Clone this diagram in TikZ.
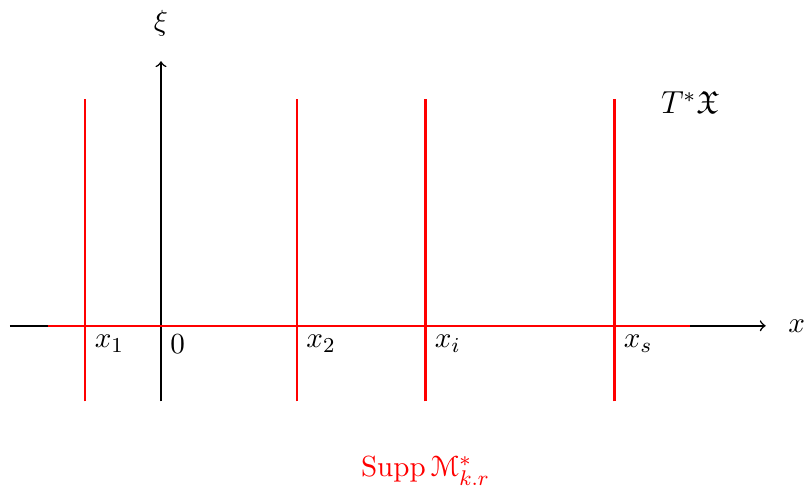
\documentclass[tikz,border=0pt]{standalone}
\usepackage{amssymb}
\usepackage{eucal}
\begin{document}
\begin{tikzpicture}[every node/.style={font=\fontsize{11}{13}\selectfont}]
\useasboundingbox (-2.13,-2.18) rectangle (8.52,4.31);
\tikzset{axisline/.style={->,black,line width=0.6pt},suppline/.style={draw=red,line width=0.8pt}}
\coordinate (xl) at (-2,0);
\coordinate (xr) at (8,0);
\coordinate (yb) at (0,-1);
\coordinate (yt) at (0,3.5);
\draw[axisline] (xl) -- (xr);
\draw[axisline] (yb) -- (yt);
\node (xlab) at (8.41,0) {$x$};
\node (xilab) at (0,4) {$\xi$};
\node (zero) [below right] at (0,0) {$0$};
\coordinate (hl) at (-1.5,0);
\coordinate (hr) at (7,0);
\draw[suppline] (hl) -- (hr);
\foreach \px/\nm/\lab in {-1/a/x_1, 1.8/b/x_2, 3.5/c/x_i, 6/d/x_s}{
  \coordinate (\nm b) at (\px,-1);
  \coordinate (\nm t) at (\px,3);
  \draw[suppline] (\nm b) -- (\nm t);
  \node (\nm lab) [below right] at (\px,0) {$\lab$};
}
\node[font=\fontsize{12}{14}\selectfont] (tx) at (7,2.95) {$T^*\mathfrak{X}$};
\node[text=red] (supp) at (3.5,-1.92) {$\mathrm{Supp}\,\mathcal{M}^*_{k.r}$};
\end{tikzpicture}
\end{document}
